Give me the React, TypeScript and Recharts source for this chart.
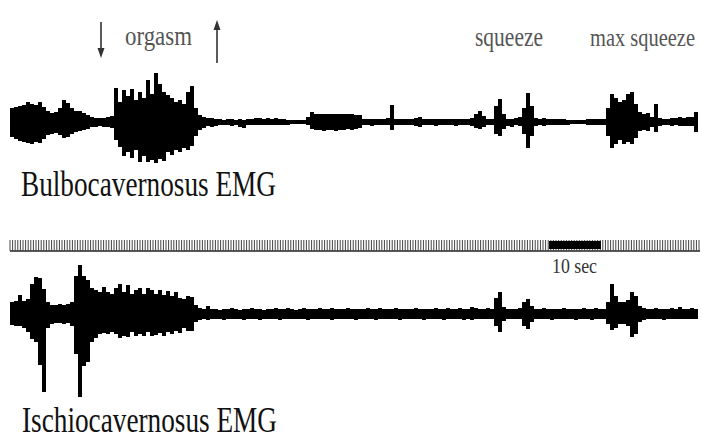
import React from 'react';
import { BarChart, ComposedChart, Bar, Line, XAxis, YAxis, ReferenceArea } from 'recharts';

// Bulbocavernosus EMG envelope (px above / below baseline), one sample every ~0.77 s
const bulboUp = [
  14, 15, 16, 17, 20, 18, 17, 20, 15, 11,
  9, 10, 14, 22, 19, 14, 11, 11, 9, 7,
  5, 4, 4, 4, 5, 6, 34, 20, 32, 26,
  33, 22, 30, 24, 42, 28, 49, 38, 30, 27,
  24, 20, 22, 18, 30, 36, 14, 7, 5, 4,
  4, 3, 3, 2, 3, 3, 2, 3, 2, 3,
  3, 4, 4, 3, 4, 3, 4, 3, 3, 2,
  2, 2, 2, 2, 5, 10, 8, 8, 8, 8,
  8, 8, 8, 8, 8, 8, 7, 7, 3, 3,
  3, 3, 3, 3, 4, 17, 3, 3, 3, 3,
  3, 4, 5, 3, 3, 3, 3, 3, 3, 3,
  3, 3, 3, 3, 3, 4, 8, 11, 6, 3,
  3, 16, 23, 8, 3, 3, 4, 5, 14, 29,
  16, 4, 3, 4, 3, 3, 3, 3, 3, 2,
  2, 2, 2, 2, 3, 3, 3, 3, 3, 14,
  28, 24, 20, 22, 28, 30, 18, 10, 8, 9,
  5, 18, 4, 3, 3, 4, 4, 5, 4, 5,
  5, 10,
];
const bulboDown = [
  15, 17, 19, 20, 21, 22, 20, 21, 17, 13,
  12, 11, 13, 16, 15, 12, 10, 9, 8, 7,
  5, 5, 4, 5, 5, 6, 18, 25, 34, 30,
  36, 28, 40, 34, 40, 38, 41, 37, 39, 30,
  33, 28, 30, 26, 28, 24, 14, 8, 6, 4,
  5, 4, 3, 3, 3, 4, 3, 5, 6, 3,
  3, 3, 3, 3, 3, 3, 3, 3, 3, 3,
  2, 2, 2, 2, 3, 7, 8, 8, 9, 8,
  8, 9, 8, 8, 7, 8, 7, 6, 3, 3,
  4, 3, 3, 3, 3, 8, 3, 3, 3, 3,
  3, 4, 5, 3, 3, 3, 4, 3, 3, 3,
  3, 4, 3, 3, 3, 4, 6, 7, 5, 3,
  3, 12, 14, 7, 4, 5, 3, 4, 12, 26,
  14, 4, 3, 4, 3, 3, 3, 3, 3, 3,
  2, 2, 2, 2, 3, 3, 3, 3, 3, 14,
  26, 22, 18, 22, 20, 22, 16, 9, 8, 9,
  5, 10, 4, 3, 3, 4, 3, 4, 4, 4,
  4, 10,
];

// Ischiocavernosus EMG envelope
const ischioUp = [
  12, 13, 19, 13, 15, 30, 37, 36, 25, 12,
  9, 9, 10, 9, 10, 12, 38, 49, 38, 34,
  26, 24, 22, 27, 22, 20, 26, 30, 22, 29,
  20, 24, 26, 20, 26, 24, 20, 24, 19, 23,
  18, 22, 16, 15, 18, 17, 9, 6, 5, 8,
  5, 5, 4, 5, 5, 6, 5, 4, 5, 5,
  6, 5, 5, 4, 5, 5, 6, 5, 5, 6,
  5, 4, 5, 6, 5, 5, 5, 6, 5, 5,
  6, 5, 5, 5, 6, 5, 5, 5, 5, 6,
  5, 5, 6, 5, 5, 5, 6, 5, 5, 5,
  5, 6, 5, 5, 5, 5, 6, 5, 5, 6,
  5, 5, 6, 5, 5, 7, 6, 5, 5, 6,
  5, 16, 22, 7, 5, 5, 5, 6, 12, 15,
  8, 5, 5, 6, 5, 5, 5, 5, 6, 5,
  5, 5, 5, 6, 5, 5, 6, 5, 5, 12,
  30, 18, 12, 12, 14, 22, 18, 8, 6, 5,
  5, 6, 5, 5, 5, 6, 5, 7, 5, 5,
  6, 5,
];
const ischioDown = [
  11, 12, 12, 14, 18, 25, 28, 51, 78, 14,
  10, 9, 9, 10, 9, 12, 40, 83, 52, 48,
  28, 24, 20, 19, 20, 18, 20, 24, 22, 23,
  18, 22, 20, 22, 18, 22, 21, 19, 22, 18,
  20, 17, 19, 14, 17, 17, 8, 6, 5, 6,
  5, 5, 5, 6, 5, 5, 5, 5, 6, 5,
  5, 5, 6, 5, 5, 5, 5, 6, 5, 5,
  5, 5, 5, 5, 6, 5, 5, 5, 5, 5,
  6, 5, 5, 5, 5, 5, 6, 5, 5, 5,
  5, 6, 5, 5, 5, 5, 5, 6, 5, 5,
  5, 5, 5, 6, 5, 5, 5, 5, 6, 5,
  5, 5, 5, 6, 5, 6, 5, 5, 5, 5,
  5, 12, 18, 7, 5, 5, 5, 5, 12, 15,
  8, 5, 5, 5, 5, 6, 5, 5, 5, 5,
  5, 6, 5, 5, 5, 6, 5, 5, 5, 10,
  16, 14, 10, 10, 12, 23, 20, 8, 6, 5,
  5, 5, 5, 6, 5, 5, 5, 5, 5, 5,
  5, 5,
];

// time scale (seconds)
const recordLengthSec = 132.69;
const tickStepSec = 0.5;
const scaleBarStartSec = 103.65;
const scaleBarLengthSec = 10;
const timeTicks = Array.from({ length: Math.floor(recordLengthSec / tickStepSec) + 1 }, (_, k) => k * tickStepSec);

const bulboData = bulboUp.map((u, i) => ({ i, range: [-bulboDown[i], u] }));
const ischioData = ischioUp.map((u, i) => ({ i, range: [-ischioDown[i], u] }));
const timeData = [{ t: 0, v: 0 }, { t: recordLengthSec, v: 0 }];

const serif = '"Liberation Serif", "DejaVu Serif", serif';
const NoLabel = () => <g />;

export default function App() {
  return (
    <div style={{ position: 'absolute', left: 0, top: 0, width: 702, height: 441, background: '#fff', overflow: 'hidden' }}>
      <div style={{ position: 'absolute', left: 0, top: 52 }}>
        <BarChart width={702} height={140} data={bulboData} margin={{ top: 0, right: 4, left: 10, bottom: 0 }} barCategoryGap={0}>
          <XAxis dataKey="i" hide />
          <YAxis hide domain={[-70, 70]} allowDataOverflow />
          <Bar dataKey="range" fill="#000" isAnimationActive={false} />
        </BarChart>
      </div>
      <div style={{ position: 'absolute', left: 0, top: 226 }}>
        <ComposedChart width={702} height={50} data={timeData} margin={{ top: 0, right: 2, left: 10, bottom: 0 }}>
          <XAxis
            type="number"
            dataKey="t"
            domain={[0, recordLengthSec]}
            ticks={timeTicks}
            interval={0}
            orientation="top"
            height={25}
            tickSize={11}
            tick={NoLabel}
            allowDataOverflow
            axisLine={{ stroke: '#222', strokeWidth: 1.5 }}
            tickLine={{ stroke: '#444', strokeWidth: 1 }}
          />
          <YAxis hide type="number" domain={[0, 25]} allowDataOverflow />
          <Line dataKey="v" stroke="none" dot={false} isAnimationActive={false} />
        </ComposedChart>
      </div>
      {/* 10-second scale bar, on the same time scale, drawn above the tick marks */}
      <div style={{ position: 'absolute', left: 0, top: 226 }}>
        <ComposedChart width={702} height={50} data={timeData} margin={{ top: 0, right: 2, left: 10, bottom: 0 }}>
          <XAxis type="number" dataKey="t" domain={[0, recordLengthSec]} hide allowDataOverflow />
          <YAxis hide type="number" domain={[0, 50]} allowDataOverflow />
          <Line dataKey="v" stroke="none" dot={false} isAnimationActive={false} />
          <ReferenceArea
            x1={scaleBarStartSec}
            x2={scaleBarStartSec + scaleBarLengthSec}
            y1={27}
            y2={35}
            fill="#000"
            fillOpacity={1}
            stroke="none"
            ifOverflow="visible"
          />
        </ComposedChart>
      </div>
      <div style={{ position: 'absolute', left: 0, top: 254 }}>
        <BarChart width={702} height={150} data={ischioData} margin={{ top: 0, right: 4, left: 10, bottom: 0 }} barCategoryGap={0}>
          <XAxis dataKey="i" hide />
          <YAxis hide domain={[-90, 60]} allowDataOverflow />
          <Bar dataKey="range" fill="#000" isAnimationActive={false} />
        </BarChart>
      </div>
      <svg width={702} height={441} style={{ position: 'absolute', left: 0, top: 0, pointerEvents: 'none' }}>
        <line x1={101} y1={22} x2={101} y2={50} stroke="#333" strokeWidth={1.6} />
        <polygon points="97.5,48 104.5,48 101,58" fill="#333" />
        <line x1={217} y1={28} x2={217} y2={63} stroke="#333" strokeWidth={1.6} />
        <polygon points="213.5,30 220.5,30 217,20" fill="#333" />
        <text x={125} y={45} fontFamily={serif} fontSize={27} fill="#555" textLength={67} lengthAdjust="spacingAndGlyphs">orgasm</text>
        <text x={475} y={46} fontFamily={serif} fontSize={27} fill="#555" textLength={68} lengthAdjust="spacingAndGlyphs">squeeze</text>
        <text transform="translate(590,46) scale(0.82,1)" x={0} y={0} fontFamily={serif} fontSize={25} fill="#555" textLength={128} lengthAdjust="spacingAndGlyphs">max squeeze</text>
        <text x={21} y={196} fontFamily={serif} fontSize={36} fill="#111" textLength={255} lengthAdjust="spacingAndGlyphs">Bulbocavernosus EMG</text>
        <text x={552} y={273} fontFamily={serif} fontSize={20} fill="#333" textLength={45} lengthAdjust="spacingAndGlyphs">10 sec</text>
        <text x={22} y={432} fontFamily={serif} fontSize={35} fill="#111" textLength={255} lengthAdjust="spacingAndGlyphs">Ischiocavernosus EMG</text>
      </svg>
    </div>
  );
}
